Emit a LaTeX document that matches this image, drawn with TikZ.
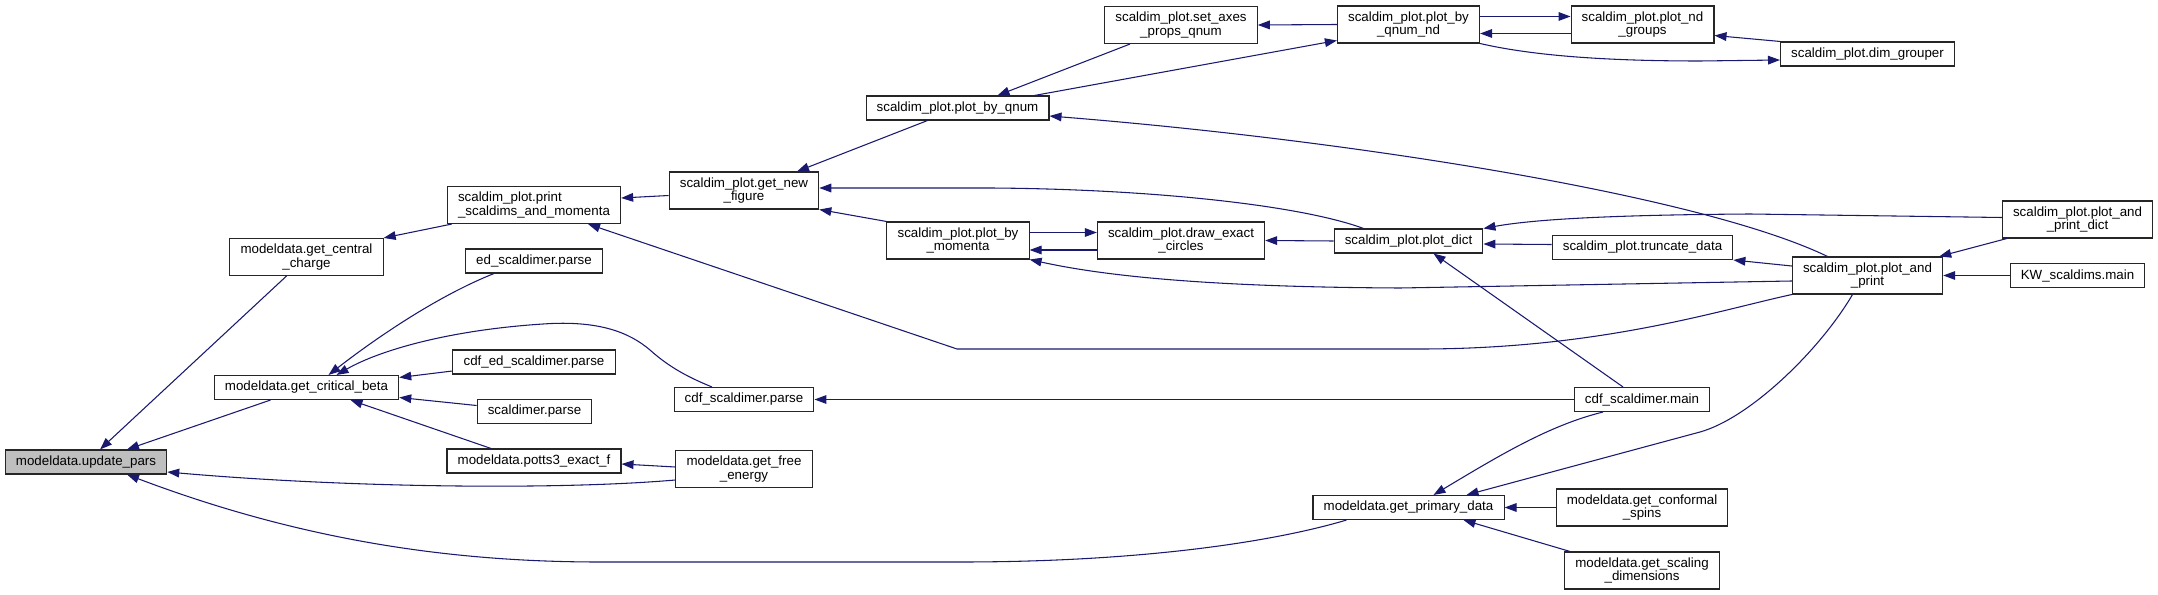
\documentclass[tikz,border=0pt]{standalone}
\usepackage{fontspec}
\setmainfont{Liberation Sans}
\usetikzlibrary{arrows.meta,calc}
\definecolor{edgeblue}{HTML}{191970}
\definecolor{curfill}{HTML}{BFBFBF}
\tikzset{
  fn/.style={draw=black!85, line width=0.8pt, inner xsep=8pt, inner ysep=0pt,
    minimum height=18pt, font=\fontsize{10}{10}\selectfont, align=center},
  fntwo/.style={fn, minimum height=27.75pt},
  call/.style={<-, draw=edgeblue, line width=0.8pt},
}
\begin{document}
\begin{tikzpicture}[x=0.75pt, y=-0.75pt, >={Triangle[length=9pt,width=6.5pt]}]
  \useasboundingbox (0,0) rectangle (2158,595);

  \node[fn, fill=curfill] (upd) at (86,462) {modeldata.update\_pars};
  \node[fntwo] (cc) at (306.5,257) {modeldata.get\_central\\\_charge};
  \node[fn] (cb) at (306.5,387.5) {modeldata.get\_critical\_beta};
  \node[fntwo, align=left] (psm) at (534,205) {scaldim\_plot.print\\\_scaldims\_and\_momenta};
  \node[fn] (eds) at (534,261) {ed\_scaldimer.parse};
  \node[fn] (ceds) at (534,362) {cdf\_ed\_scaldimer.parse};
  \node[fn] (sp) at (534.5,411.5) {scaldimer.parse};
  \node[fn] (potts) at (534,461) {modeldata.potts3\_exact\_f};
  \node[fntwo] (gnf) at (744,190.5) {scaldim\_plot.get\_new\\\_figure};
  \node[fn] (cdfp) at (744,399.5) {cdf\_scaldimer.parse};
  \node[fntwo] (gfe) at (744,469) {modeldata.get\_free\\\_energy};
  \node[fntwo] (sap) at (1181,25) {scaldim\_plot.set\_axes\\\_props\_qnum};
  \node[fn] (pbq) at (957.5,108) {scaldim\_plot.plot\_by\_qnum};
  \node[fntwo] (pbm) at (958,240.5) {scaldim\_plot.plot\_by\\\_momenta};
  \node[fntwo] (dec) at (1181,240.5) {scaldim\_plot.draw\_exact\\\_circles};
  \node[fntwo] (pbqnd) at (1408.5,24.5) {scaldim\_plot.plot\_by\\\_qnum\_nd};
  \node[fn] (pd) at (1408.5,241) {scaldim\_plot.plot\_dict};
  \node[fn] (cdfm) at (1642,399.5) {cdf\_scaldimer.main};
  \node[fn] (gpd) at (1408.5,507.5) {modeldata.get\_primary\_data};
  \node[fntwo] (png) at (1642.5,24.5) {scaldim\_plot.plot\_nd\\\_groups};
  \node[fn] (trd) at (1642.5,247.5) {scaldim\_plot.truncate\_data};
  \node[fntwo] (gcs) at (1642,507.5) {modeldata.get\_conformal\\\_spins};
  \node[fntwo] (gsd) at (1642,570.5) {modeldata.get\_scaling\\\_dimensions};
  \node[fn] (dg) at (1867.5,54) {scaldim\_plot.dim\_grouper};
  \node[fntwo] (pap) at (1867.5,275.5) {scaldim\_plot.plot\_and\\\_print};
  \node[fntwo] (papd) at (2077.5,219.5) {scaldim\_plot.plot\_and\\\_print\_dict};
  \node[fn] (kw) at (2077.5,275.5) {KW\_scaldims.main};

  \draw[call] ($(upd.north)+(14,0)$) -- ($(cc.south)+(-20,0)$);
  \draw[call] ($(upd.north)+(41,0)$) -- ($(cb.south)+(-36,0)$);
  \draw[call] ($(upd.east)+(0,10)$) .. controls (350,488) and (560,490) .. ($(gfe.west)+(0,11)$);
  \draw[call] ($(upd.south)+(41,0)$) .. controls (300,540) and (450,562) .. (600,562)
    -- (960,562) .. controls (1150,562) and (1280,540) .. ($(gpd.south west)+(34,0)$);
  \draw[call] (cc.north east) -- ($(psm.south west)+(5,0)$);
  \draw[call] ($(psm.east)+(0,-7)$) -- ($(gnf.west)+(0,5)$);
  \draw[call] ($(psm.south)+(54,0)$) -- (957,349) -- (1420,349)
    .. controls (1600,349) and (1720,310) .. (pap.south west);
  \draw[call] ($(gnf.north)+(53,0)$) -- ($(pbq.south)+(-30,0)$);
  \draw[call] ($(gnf.east)+(0,-2.5)$) -- (990,188) .. controls (1150,189) and (1300,205) .. ($(pd.north)+(-45,0)$);
  \draw[call] (gnf.south east) -- (pbm.north west);
  \draw[call] ($(cb.north)+(22,0)$) .. controls (380,335) and (440,295) .. ($(eds.south)+(-40,0)$);
  \draw[call] ($(cb.north)+(30,0)$) .. controls (380,350) and (450,330) .. (543,324)
    .. controls (600,320) and (630,333) .. (650,350) .. controls (670,368) and (690,378) .. ($(cdfp.north)+(-32,0)$);
  \draw[call] ($(cb.east)+(0,-10)$) -- ($(ceds.west)+(0,9)$);
  \draw[call] ($(cb.east)+(0,10)$) -- ($(sp.west)+(0,-6)$);
  \draw[call] ($(cb.south)+(44,0)$) -- ($(potts.north)+(-43,0)$);
  \draw[call] ($(potts.east)+(0,3)$) -- ($(gfe.west)+(0,-2)$);
  \draw[call] ($(pbq.north)+(40,0)$) -- ($(sap.south)+(-51,0)$);
  \draw[call] ($(pbqnd.west)+(0,16)$) -- ($(pbq.north)+(77,0)$);
  \draw[call] (sap.east) -- (pbqnd.west);
  \draw[call] ($(png.west)+(0,-8)$) -- ($(pbqnd.east)+(0,-8)$);
  \draw[call] ($(pbqnd.east)+(0,9)$) -- ($(png.west)+(0,9)$);
  \draw[call] ($(png.east)+(0,11)$) -- (dg.north west);
  \draw[call] ($(dg.west)+(0,6)$) -- (1700,61) .. controls (1600,61) and (1530,55) .. (pbqnd.south east);
  \draw[call] ($(pbq.east)+(0,8)$) .. controls (1350,140) and (1700,195) .. ($(pap.north)+(-40,0)$);
  \draw[call] ($(dec.west)+(0,-8)$) -- ($(pbm.east)+(0,-8)$);
  \draw[call] ($(pbm.east)+(0,9.5)$) -- ($(dec.west)+(0,9.5)$);
  \draw[call] (dec.east) -- (pd.west);
  \draw[call] (pbm.south east) .. controls (1100,275) and (1200,287) .. (1400,288) -- ($(pap.west)+(0,5.5)$);
  \draw[call] (pd.north east) .. controls (1530,220) and (1600,215) .. (1750,214) -- ($(papd.west)+(0,-2)$);
  \draw[call] ($(pd.east)+(0,3)$) -- ($(trd.west)+(0,-3)$);
  \draw[call] ($(pd.south)+(25,0)$) -- ($(cdfm.north)+(-19,0)$);
  \draw[call] (trd.south east) -- ($(pap.west)+(0,-9.5)$);
  \draw[call] ($(pap.north east)+(-4,0)$) -- ($(papd.south west)+(5,0)$);
  \draw[call] (pap.east) -- (kw.west);
  \draw[call] (cdfp.east) -- (cdfm.west);
  \draw[call] ($(gpd.north)+(25,0)$) .. controls (1500,455) and (1550,425) .. ($(cdfm.south)+(-39,0)$);
  \draw[call] ($(gpd.north)+(58,0)$) -- (1700,432) .. controls (1750,418) and (1820,350) .. ($(pap.south)+(-15,0)$);
  \draw[call] (gpd.east) -- (gcs.west);
  \draw[call] ($(gpd.south)+(55,0)$) -- ($(gsd.north)+(-72,0)$);
\end{tikzpicture}
\end{document}
